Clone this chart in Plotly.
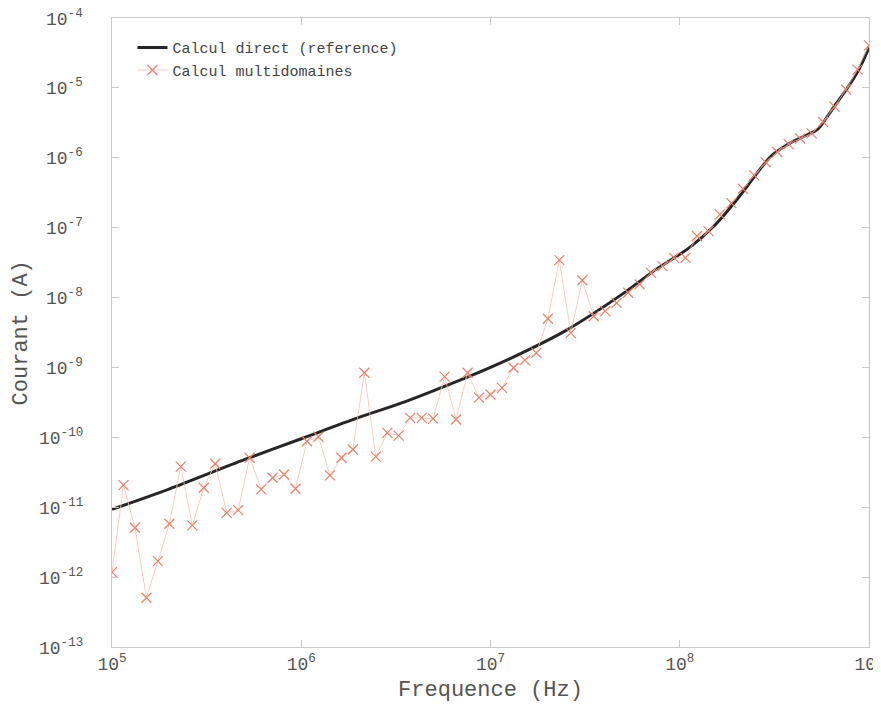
import math
import plotly.graph_objects as go

# reference curve (calcul direct)
ref_freq = [1e5, 2e5, 5e5, 1e6, 2e6, 3.55e6, 7.38e6, 1e7, 1.585e7, 2.51e7,
            4.97e7, 7.46e7, 1.12e8, 1.55e8, 2e8, 2.51e8, 3.03e8, 3.72e8,
            4.75e8, 5.37e8, 6.53e8, 7.74e8, 8.91e8, 1e9]
ref_courant = [9.33e-12, 1.82e-11, 4.79e-11, 9.55e-11, 1.91e-10, 3.24e-10,
               7.08e-10, 1.0e-9, 1.78e-9, 3.39e-9, 1.12e-8, 2.51e-8, 5.13e-8,
               1.12e-7, 2.51e-7, 5.62e-7, 1.05e-6, 1.55e-6, 2.15e-6, 2.57e-6,
               5.37e-6, 1.02e-5, 1.91e-5, 3.8e-5]

# multidomain points
md_freq = [
    1.000e5, 1.150e5, 1.322e5, 1.520e5, 1.748e5, 2.009e5, 2.310e5, 2.656e5,
    3.054e5, 3.511e5, 4.037e5, 4.642e5, 5.337e5, 6.136e5, 7.055e5, 8.111e5,
    9.326e5, 1.072e6, 1.233e6, 1.418e6, 1.630e6, 1.874e6, 2.154e6, 2.477e6,
    2.848e6, 3.275e6, 3.765e6, 4.329e6, 4.977e6, 5.722e6, 6.579e6, 7.565e6,
    8.697e6, 1.000e7, 1.150e7, 1.322e7, 1.520e7, 1.748e7, 2.009e7, 2.310e7,
    2.656e7, 3.054e7, 3.511e7, 4.037e7, 4.642e7, 5.337e7, 6.136e7, 7.055e7,
    8.111e7, 9.326e7, 1.072e8, 1.233e8, 1.418e8, 1.630e8, 1.874e8, 2.154e8,
    2.477e8, 2.848e8, 3.275e8, 3.765e8, 4.329e8, 4.977e8, 5.722e8, 6.579e8,
    7.565e8, 8.697e8, 1.000e9,
]
md_courant = [
    1.18e-12, 2.07e-11, 5.09e-12, 5.07e-13, 1.69e-12, 5.8e-12, 3.8e-11, 5.5e-12,
    1.9e-11, 4.19e-11, 8.3e-12, 9.1e-12, 5.1e-11, 1.8e-11, 2.64e-11, 2.94e-11,
    1.84e-11, 8.8e-11, 1.02e-10, 2.85e-11, 5.1e-11, 6.7e-11, 8.4e-10, 5.3e-11,
    1.16e-10, 1.06e-10, 1.9e-10, 1.9e-10, 1.85e-10, 7.4e-10, 1.8e-10, 8.4e-10,
    3.7e-10, 4.1e-10, 5.1e-10, 9.9e-10, 1.27e-9, 1.62e-9, 4.97e-9, 3.43e-8,
    3.13e-9, 1.77e-8, 5.4e-9, 6.4e-9, 8.4e-9, 1.17e-8, 1.54e-8, 2.26e-8,
    2.81e-8, 3.7e-8, 3.7e-8, 7.6e-8, 8.9e-8, 1.55e-7, 2.24e-7, 3.6e-7,
    5.6e-7, 8.6e-7, 1.21e-6, 1.57e-6, 1.89e-6, 2.23e-6, 3.25e-6, 5.4e-6,
    9.5e-6, 1.83e-5, 4.05e-5,
]

x_tickvals = [1e5, 1e6, 1e7, 1e8, 1e9]
x_ticktext = ["10<sup>5</sup>", "10<sup>6</sup>", "10<sup>7</sup>",
              "10<sup>8</sup>", "10<sup>9</sup>"]
y_tickvals = [1e-13, 1e-12, 1e-11, 1e-10, 1e-9, 1e-8, 1e-7, 1e-6, 1e-5, 1e-4]
y_ticktext = ["10<sup>-13</sup>", "10<sup>-12</sup>", "10<sup>-11</sup>",
              "10<sup>-10</sup>", "10<sup>-9</sup>", "10<sup>-8</sup>",
              "10<sup>-7</sup>", "10<sup>-6</sup>", "10<sup>-5</sup>",
              "10<sup>-4</sup>"]

mono = "Liberation Mono, Courier New, monospace"
txt_grey = "#555555"

fig = go.Figure()

fig.add_trace(go.Scatter(
    x=ref_freq, y=ref_courant,
    mode="lines",
    name="Calcul direct (reference)",
    line=dict(color="#262626", width=3, shape="spline", smoothing=0.8),
))

fig.add_trace(go.Scatter(
    x=md_freq, y=md_courant,
    mode="lines+markers",
    name="Calcul multidomaines",
    line=dict(color="#f3c0b4", width=0.8),
    marker=dict(symbol="x-thin", size=10, line=dict(color="#e8806a", width=1.2)),
))

axis_common = dict(
    showgrid=False,
    zeroline=False,
    showline=True,
    linecolor="#c8c8c8",
    linewidth=1,
    mirror="ticks",
    ticks="inside",
    ticklen=7,
    tickcolor="#c8c8c8",
    automargin=False,
    ticklabeloverflow="allow",
    tickfont=dict(family=mono, size=18, color=txt_grey),
)

# y tick labels as annotations so they sit ~30px from the axis like the original
y_labels = [dict(
    text=t, xref="paper", yref="y", x=-0.036, y=math.log10(v),
    xanchor="right", yanchor="middle", showarrow=False,
    font=dict(family=mono, size=18, color=txt_grey),
) for v, t in zip(y_tickvals, y_ticktext)]

# page body has an 8px margin, so the figure is sized/offset to compensate
fig.update_layout(
    width=865,
    height=695,
    paper_bgcolor="white",
    plot_bgcolor="white",
    margin=dict(l=104, r=4, t=10, b=56),
    xaxis=dict(
        type="log",
        range=[5, 9],
        tickvals=x_tickvals,
        ticktext=x_ticktext,
        title=dict(text="Frequence (Hz)", font=dict(family=mono, size=22, color=txt_grey),
                   standoff=10),
        **axis_common,
    ),
    yaxis=dict(
        type="log",
        range=[-13, -4],
        tickvals=y_tickvals,
        showticklabels=False,
        **axis_common,
    ),
    annotations=y_labels + [dict(
        text="Courant (A)",
        textangle=-90,
        xref="paper", yref="paper",
        x=-0.119, y=0.5,
        xanchor="center", yanchor="middle",
        showarrow=False,
        font=dict(family=mono, size=22, color=txt_grey),
    )],
    legend=dict(
        x=0.027, y=0.979,
        xanchor="left", yanchor="top",
        bgcolor="rgba(255,255,255,0)",
        font=dict(family=mono, size=15, color="#444444"),
        tracegroupgap=0,
        itemwidth=30,
    ),
    showlegend=True,
)

fig.write_html("out.html")
